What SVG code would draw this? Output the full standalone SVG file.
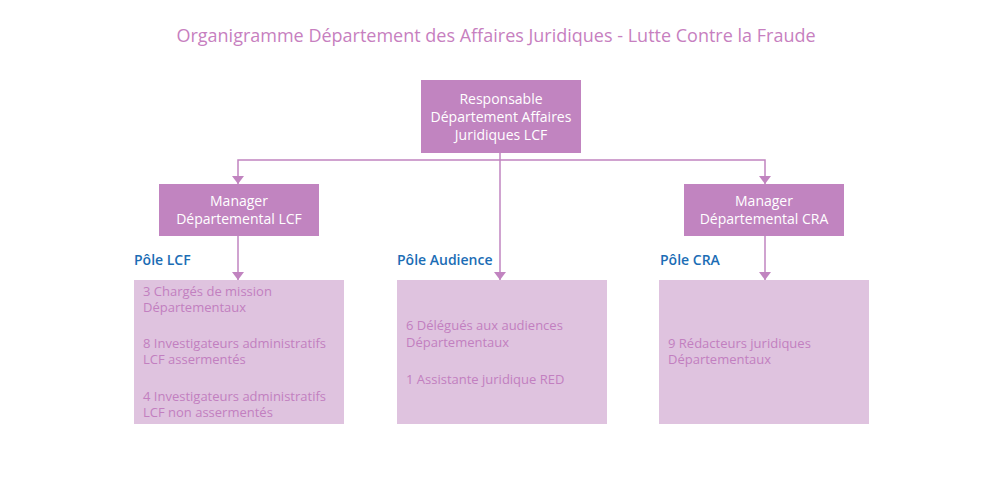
<svg xmlns="http://www.w3.org/2000/svg" width="1000" height="477" viewBox="0 0 1000 477">
<defs>
<marker id="arr" viewBox="0 0 8 12" refX="8" refY="6" markerWidth="8" markerHeight="12" markerUnits="userSpaceOnUse" orient="auto-start-reverse">
<path d="M0,0 L8,6 L0,12 Z" fill="#c184c0"/>
</marker>
<style>
text{font-family:"Open Sans","Noto Sans",sans-serif}
.title{font-size:18px;fill:#c77fc0}
.box{fill:#c184c0}
.cbox{fill:#dfc3df}
.wt{font-size:14px;fill:#ffffff;text-anchor:middle}
.pole{font-size:14px;fill:#1b6db5;font-weight:600}
.ct{font-size:13px;fill:#c27fc0}
.ln{stroke:#c184c0;stroke-width:1.5;fill:none}
</style>
</defs>
<rect width="1000" height="477" fill="#ffffff"/>
<text class="title" x="496" y="42" text-anchor="middle">Organigramme Département des Affaires Juridiques - Lutte Contre la Fraude</text>
<g id="connectors">
<path class="ln" d="M238,184 V160 H765 V184" marker-start="url(#arr)" marker-end="url(#arr)"/>
<path class="ln" d="M500,153 V280" marker-end="url(#arr)"/>
<path class="ln" d="M238,236 V280" marker-end="url(#arr)"/>
<path class="ln" d="M765,236 V280" marker-end="url(#arr)"/>
</g>
<g id="responsable">
<rect class="box" x="421" y="80" width="160" height="73"/>
<text class="wt" x="501" y="104">Responsable</text>
<text class="wt" x="501" y="122">Département Affaires</text>
<text class="wt" x="501" y="140">Juridiques LCF</text>
</g>
<g id="manager-lcf">
<rect class="box" x="159" y="184" width="160" height="52"/>
<text class="wt" x="239" y="206">Manager</text>
<text class="wt" x="239" y="224">Départemental LCF</text>
</g>
<g id="manager-cra">
<rect class="box" x="684" y="184" width="160" height="52"/>
<text class="wt" x="764" y="206">Manager</text>
<text class="wt" x="764" y="224">Départemental CRA</text>
</g>
<g id="pole-lcf">
<text class="pole" x="134" y="265">Pôle LCF</text>
<rect class="cbox" x="134" y="280" width="210" height="144"/>
<text class="ct" x="143" y="296">3 Chargés de mission</text>
<text class="ct" x="143" y="312">Départementaux</text>
<text class="ct" x="143" y="348">8 Investigateurs administratifs</text>
<text class="ct" x="143" y="364">LCF assermentés</text>
<text class="ct" x="143" y="401">4 Investigateurs administratifs</text>
<text class="ct" x="143" y="417">LCF non assermentés</text>
</g>
<g id="pole-audience">
<text class="pole" x="397" y="265">Pôle Audience</text>
<rect class="cbox" x="397" y="280" width="210" height="144"/>
<text class="ct" x="406" y="330">6 Délégués aux audiences</text>
<text class="ct" x="406" y="347">Départementaux</text>
<text class="ct" x="406" y="384">1 Assistante juridique RED</text>
</g>
<g id="pole-cra">
<text class="pole" x="660" y="265">Pôle CRA</text>
<rect class="cbox" x="659" y="280" width="210" height="144"/>
<text class="ct" x="668" y="348">9 Rédacteurs juridiques</text>
<text class="ct" x="668" y="364">Départementaux</text>
</g>
</svg>
